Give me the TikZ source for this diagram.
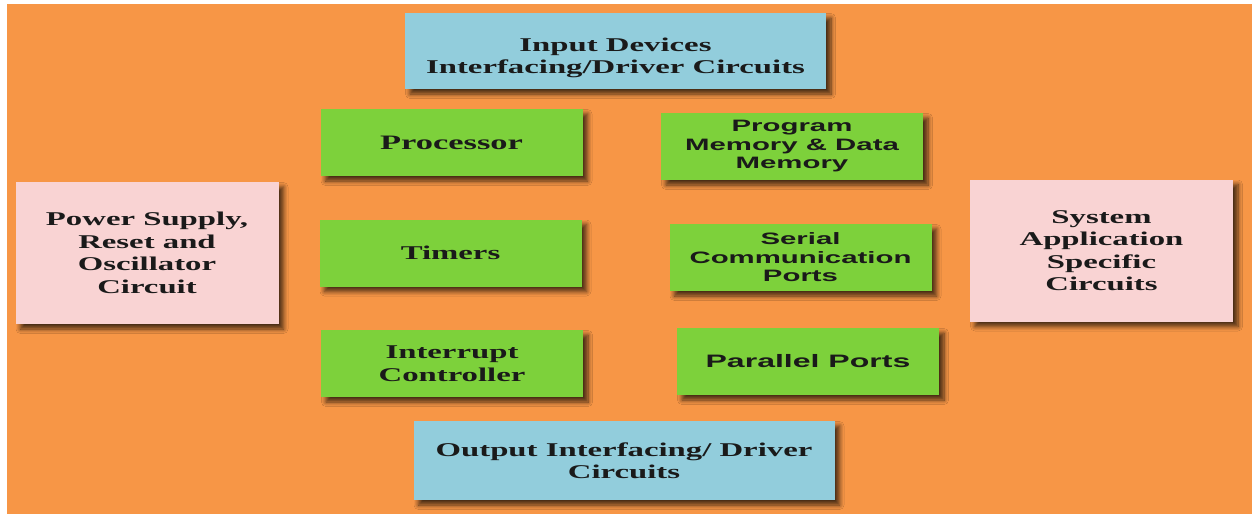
\documentclass[tikz,border=0pt]{standalone}
\usepackage{fontspec}
\usetikzlibrary{shadows.blur}
% widened faces for the block labels
\newfontfamily\boxserif[FakeStretch=1.68]{Liberation Serif}
\newfontfamily\boxsans[FakeStretch=1.78]{Liberation Sans}
\definecolor{bgorange}{HTML}{F79646}
\definecolor{ioblue}{HTML}{92CDDC}
\definecolor{coregreen}{HTML}{7DD13B}
\definecolor{sidepink}{HTML}{F9D3D3}
\definecolor{labeltext}{HTML}{1A1A1A}
\tikzset{
  blk/.style={rectangle, inner sep=0pt, align=center, text=labeltext,
    blur shadow={shadow xshift=5pt, shadow yshift=-5pt, shadow blur radius=4.5pt,
      shadow blur steps=8, shadow opacity=70}},
  serifbox/.style={blk, font=\boxserif\bfseries\fontsize{19.5}{22.5}\selectfont},
  sansbox/.style={blk, font=\boxsans\bfseries\fontsize{16.5}{18.5}\selectfont},
  iobox/.style={fill=ioblue, minimum width=421pt, minimum height=76pt},
  corebox/.style={fill=coregreen, minimum width=262pt, minimum height=67pt},
  sidebox/.style={fill=sidepink, minimum width=263pt, minimum height=142pt},
}
\begin{document}
\begin{tikzpicture}[x=1pt, y=-1pt]
  \useasboundingbox (0,0) rectangle (1252,514);
  \fill[white] (0,0) rectangle (1252,514);
  \fill[bgorange] (7,4) rectangle (1252,514);

  % interfacing blocks
  \node[serifbox, iobox] (input) at (615.5,51)
    {\rule{0pt}{27pt}Input Devices\\Interfacing/Driver Circuits};
  \node[serifbox, iobox, minimum height=79pt] (output) at (624,460.5)
    {Output Interfacing/ Driver\\Circuits};

  % core blocks, left column
  \node[serifbox, corebox, font=\boxserif\bfseries\fontsize{20.5}{22.5}\selectfont]
    (proc) at (451.5,142.5) {Processor};
  \node[serifbox, corebox] (timers) at (450.5,253) {Timers};
  \node[serifbox, corebox] (intr) at (452,363.5) {Interrupt\\Controller};

  % core blocks, right column
  \node[sansbox, corebox] (mem) at (792,146.5)
    {Program\\Memory \& Data\\Memory};
  \node[sansbox, corebox] (serial) at (800.5,257.5)
    {Serial\\Communication\\Ports};
  \node[sansbox, corebox, font=\boxsans\bfseries\fontsize{18}{20}\selectfont]
    (par) at (808,361.5) {Parallel Ports};

  % side blocks
  \node[serifbox, sidebox] (power) at (147,253)
    {Power Supply,\\Reset and\\Oscillator\\Circuit};
  \node[serifbox, sidebox] (app) at (1101.5,250.5)
    {System\\Application\\Specific\\Circuits};
\end{tikzpicture}
\end{document}
